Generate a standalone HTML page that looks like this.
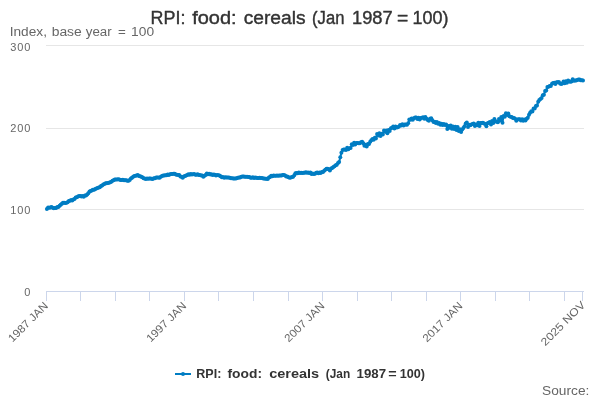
<!DOCTYPE html>
<html><head><meta charset="utf-8"><title>RPI: food: cereals (Jan 1987=100)</title>
<style>
html,body{margin:0;padding:0;background:#fff;}
svg{display:block;will-change:transform;font-family:"Liberation Sans",sans-serif;}
</style></head><body>
<svg width="600" height="400" viewBox="0 0 600 400">
<rect width="600" height="400" fill="#ffffff"/>
<g stroke="#e6e6e6" stroke-width="1" fill="none">
<path d="M46 45.5H584"/><path d="M46 128.5H584"/><path d="M46 209.5H584"/>
</g>
<g stroke="#ccd6eb" stroke-width="1" fill="none">
<path d="M46 291.5H584"/><path d="M46.5 291V301"/><path d="M80.5 291V301"/><path d="M115.5 291V301"/><path d="M149.5 291V301"/><path d="M184.5 291V301"/><path d="M218.5 291V301"/><path d="M253.5 291V301"/><path d="M288.5 291V301"/><path d="M322.5 291V301"/><path d="M357.5 291V301"/><path d="M391.5 291V301"/><path d="M426.5 291V301"/><path d="M460.5 291V301"/><path d="M495.5 291V301"/><path d="M529.5 291V301"/><path d="M564.5 291V301"/><path d="M582.5 291V301"/>
</g>
<g font-size="18" font-weight="normal" fill="#333333" stroke="#333333" stroke-width="0.4" stroke-linejoin="round"><text x="150.6" y="24" textLength="34.8" lengthAdjust="spacingAndGlyphs">RPI:</text><text x="192.2" y="24" textLength="44.47" lengthAdjust="spacingAndGlyphs">food:</text><text x="243.7" y="24" textLength="61.9" lengthAdjust="spacingAndGlyphs">cereals</text><text x="312.1" y="24" textLength="32.28" lengthAdjust="spacingAndGlyphs">(Jan</text><text x="352.04" y="24" textLength="40.64" lengthAdjust="spacingAndGlyphs">1987</text><text x="397.0" y="24" textLength="11.3" lengthAdjust="spacingAndGlyphs">=</text><text x="412.5" y="24" textLength="35.9" lengthAdjust="spacingAndGlyphs">100)</text></g>
<g font-size="12" font-weight="normal" fill="#666666"><text x="9.72" y="36" textLength="37.22" lengthAdjust="spacingAndGlyphs">Index,</text><text x="51.7" y="36" textLength="30.09" lengthAdjust="spacingAndGlyphs">base</text><text x="85.8" y="36" textLength="25.9" lengthAdjust="spacingAndGlyphs">year</text><text x="118.0" y="36" textLength="7.8" lengthAdjust="spacingAndGlyphs">=</text><text x="131.1" y="36" textLength="22.96" lengthAdjust="spacingAndGlyphs">100</text></g>
<g font-size="11" fill="#666666" text-anchor="end">
<text x="31.2" y="51" letter-spacing="0.85">300</text><text x="31.2" y="132" letter-spacing="0.85">200</text><text x="31.2" y="214" letter-spacing="0.85">100</text><text x="31.2" y="296" letter-spacing="0.85">0</text>
</g>
<g font-size="11" fill="#666666" text-anchor="end">
<text transform="translate(48.85,306.45) rotate(-45)" textLength="51.5" lengthAdjust="spacingAndGlyphs">1987 JAN</text>
<text transform="translate(187.05,306.45) rotate(-45)" textLength="51.5" lengthAdjust="spacingAndGlyphs">1997 JAN</text>
<text transform="translate(325.25,306.45) rotate(-45)" textLength="51.5" lengthAdjust="spacingAndGlyphs">2007 JAN</text>
<text transform="translate(463.35,306.45) rotate(-45)" textLength="51.5" lengthAdjust="spacingAndGlyphs">2017 JAN</text>
<text transform="translate(585.95,305.75) rotate(-45)" textLength="57.5" lengthAdjust="spacingAndGlyphs">2025 NOV</text>
</g>
<polyline fill="none" stroke="#007dc3" stroke-width="2" stroke-linejoin="round" stroke-linecap="round" points="46.9,209.0 48.1,207.6 49.2,207.7 50.4,207.4 51.5,207.0 52.7,207.7 53.8,208.2 55.0,208.0 56.1,207.9 57.3,207.1 58.4,207.0 59.6,205.7 60.7,204.8 61.9,203.7 63.0,202.8 64.2,202.7 65.3,202.9 66.5,202.7 67.6,202.3 68.8,201.1 69.9,200.7 71.1,200.1 72.2,200.4 73.4,199.4 74.5,198.9 75.7,197.6 76.8,197.3 78.0,196.5 79.1,196.1 80.3,196.1 81.4,196.5 82.6,196.1 83.7,196.7 84.9,195.6 86.0,195.4 87.2,194.6 88.3,193.3 89.5,191.4 90.6,191.0 91.8,190.5 92.9,189.7 94.1,189.8 95.2,189.0 96.4,188.6 97.5,188.1 98.7,187.5 99.8,187.2 101.0,185.9 102.1,185.5 103.3,184.5 104.4,183.9 105.6,183.3 106.7,183.2 107.9,183.0 109.0,182.8 110.2,182.2 111.3,181.8 112.5,180.7 113.6,180.3 114.8,179.5 115.9,179.6 117.1,179.4 118.2,179.2 119.4,179.4 120.5,179.9 121.7,180.1 122.8,179.8 124.0,180.2 125.1,180.2 126.3,180.2 127.4,180.8 128.6,180.7 129.7,180.0 130.9,178.6 132.0,177.7 133.2,176.8 134.3,176.1 135.5,175.7 136.6,175.6 137.8,175.1 138.9,176.1 140.1,176.2 141.2,176.7 142.4,177.3 143.5,178.3 144.7,178.6 145.8,179.1 147.0,178.5 148.1,178.8 149.3,178.5 150.4,178.6 151.6,178.7 152.7,179.1 153.9,178.3 155.0,178.3 156.2,177.6 157.3,177.5 158.5,177.4 159.6,177.7 160.8,176.8 162.0,176.1 163.1,175.4 164.3,175.4 165.4,175.3 166.6,175.2 167.7,174.5 168.9,174.9 170.0,174.2 171.2,174.1 172.3,173.9 173.5,173.8 174.6,173.7 175.8,174.5 176.9,174.7 178.1,175.1 179.2,175.0 180.4,176.4 181.5,176.7 182.7,177.7 183.8,176.4 185.0,176.1 186.1,175.4 187.3,175.1 188.4,174.3 189.6,174.8 190.7,174.1 191.9,174.6 193.0,174.2 194.2,174.1 195.3,174.7 196.5,174.8 197.6,174.3 198.8,175.0 199.9,175.0 201.1,175.5 202.2,175.6 203.4,176.7 204.5,175.7 205.7,175.1 206.8,173.5 208.0,174.2 209.1,173.7 210.3,174.6 211.4,174.2 212.6,175.0 213.7,174.6 214.9,174.7 216.0,175.4 217.2,175.1 218.3,175.2 219.5,175.6 220.6,176.2 221.8,177.3 222.9,177.0 224.1,177.7 225.2,177.2 226.4,177.4 227.5,177.5 228.7,177.6 229.8,177.8 231.0,178.2 232.1,178.3 233.3,178.4 234.4,178.4 235.6,178.4 236.7,178.3 237.9,177.7 239.0,177.4 240.2,177.5 241.3,176.7 242.5,176.6 243.6,176.6 244.8,176.8 245.9,176.7 247.1,176.7 248.2,176.9 249.4,177.0 250.5,177.7 251.7,177.7 252.8,177.3 254.0,177.9 255.1,177.6 256.3,177.7 257.4,178.1 258.6,178.1 259.7,177.7 260.9,178.1 262.0,178.0 263.2,178.6 264.3,178.6 265.5,178.7 266.6,178.7 267.8,179.0 268.9,177.6 270.1,177.0 271.2,175.8 272.4,176.2 273.5,175.4 274.7,175.7 275.8,175.7 277.0,175.5 278.2,175.7 279.3,175.6 280.5,175.4 281.6,175.5 282.8,174.9 283.9,175.1 285.1,175.5 286.2,176.5 287.4,176.4 288.5,177.3 289.7,177.7 290.8,177.5 292.0,176.9 293.1,176.7 294.3,175.3 295.4,173.3 296.6,172.9 297.7,173.2 298.9,172.6 300.0,173.0 301.2,172.7 302.3,173.1 303.5,172.8 304.6,172.8 305.8,172.2 306.9,172.8 308.1,172.4 309.2,173.0 310.4,172.4 311.5,174.1 312.7,173.5 313.8,174.0 315.0,173.8 316.1,172.7 317.3,172.5 318.4,173.3 319.6,172.4 320.7,173.0 321.9,172.1 323.0,172.1 324.2,170.7 325.3,169.8 326.5,168.7 327.6,168.7 328.8,169.2 329.9,170.6 331.1,168.5 332.2,168.1 333.4,167.0 334.5,166.2 335.7,165.2 336.8,164.7 338.0,163.0 339.1,161.9 340.3,157.3 341.4,152.7 342.6,150.0 343.7,149.6 344.9,149.4 346.0,150.0 347.2,147.8 348.3,149.2 349.5,148.3 350.6,148.1 351.8,144.3 352.9,144.9 354.1,142.7 355.2,144.4 356.4,143.0 357.5,142.9 358.7,143.2 359.8,143.2 361.0,142.2 362.1,141.8 363.3,143.3 364.4,145.8 365.6,144.8 366.7,146.6 367.9,144.1 369.0,144.1 370.2,141.8 371.3,140.2 372.5,139.0 373.6,139.8 374.8,137.7 375.9,138.4 377.1,133.9 378.2,135.4 379.4,133.3 380.5,135.9 381.7,133.8 382.8,134.4 384.0,130.5 385.1,131.7 386.3,130.4 387.4,133.2 388.6,130.1 389.7,131.1 390.9,128.2 392.1,127.8 393.2,126.5 394.4,128.5 395.5,126.5 396.7,127.6 397.8,127.2 399.0,126.5 400.1,124.9 401.3,125.6 402.4,124.2 403.6,125.6 404.7,124.4 405.9,124.5 407.0,124.7 408.2,123.3 409.3,119.6 410.5,119.8 411.6,118.5 412.8,119.7 413.9,118.2 415.1,117.5 416.2,117.6 417.4,118.9 418.5,117.8 419.7,119.4 420.8,117.9 422.0,117.7 423.1,117.3 424.3,118.7 425.4,117.0 426.6,118.7 427.7,119.9 428.9,120.8 430.0,118.8 431.2,118.3 432.3,120.2 433.5,122.1 434.6,121.8 435.8,123.0 436.9,122.1 438.1,123.7 439.2,122.9 440.4,124.7 441.5,123.7 442.7,125.1 443.8,124.0 445.0,125.1 446.1,124.4 447.3,129.0 448.4,126.0 449.6,127.7 450.7,125.4 451.9,128.8 453.0,126.4 454.2,128.9 455.3,126.7 456.5,129.9 457.6,127.0 458.8,130.9 459.9,129.2 461.1,132.1 462.2,129.5 463.4,128.1 464.5,126.3 465.7,123.4 466.8,122.6 468.0,126.9 469.1,124.8 470.3,125.3 471.4,124.4 472.6,124.0 473.7,123.5 474.9,125.9 476.0,124.4 477.2,125.2 478.3,122.8 479.5,125.9 480.6,122.9 481.8,123.1 482.9,122.8 484.1,123.6 485.2,124.0 486.4,126.3 487.5,123.2 488.7,122.8 489.8,122.0 491.0,124.5 492.1,120.9 493.3,122.9 494.4,118.9 495.6,121.3 496.7,121.8 497.9,122.2 499.0,119.0 500.2,120.4 501.3,116.9 502.5,122.7 503.6,116.0 504.8,116.7 505.9,113.3 507.1,115.0 508.3,113.4 509.4,116.3 510.6,116.8 511.7,116.9 512.9,118.0 514.0,118.1 515.2,118.8 516.3,120.8 517.5,119.5 518.6,119.2 519.8,119.3 520.9,120.4 522.1,119.3 523.2,120.7 524.4,119.6 525.5,120.5 526.7,118.8 527.8,117.7 529.0,114.8 530.1,112.7 531.3,111.3 532.4,111.4 533.6,108.4 534.7,108.6 535.9,106.0 537.0,105.5 538.2,101.7 539.3,100.1 540.5,98.9 541.6,97.9 542.8,95.3 543.9,94.7 545.1,90.9 546.2,90.4 547.4,87.0 548.5,86.7 549.7,85.9 550.8,85.9 552.0,83.8 553.1,83.1 554.3,82.8 555.4,83.9 556.6,82.2 557.7,82.3 558.9,82.0 560.0,83.5 561.2,83.9 562.3,83.4 563.5,81.4 564.6,83.2 565.8,81.3 566.9,82.8 568.1,80.6 569.2,81.6 570.4,81.8 571.5,81.6 572.7,79.3 573.8,80.7 575.0,80.6 576.1,80.5 577.3,79.9 578.4,79.5 579.6,79.4 580.7,80.2 581.9,80.2 583.0,80.5"/>
<g fill="#007dc3"><circle cx="46.9" cy="209.0" r="2.0"/><circle cx="48.1" cy="207.6" r="2.0"/><circle cx="49.2" cy="207.7" r="2.0"/><circle cx="50.4" cy="207.4" r="2.0"/><circle cx="51.5" cy="207.0" r="2.0"/><circle cx="52.7" cy="207.7" r="2.0"/><circle cx="53.8" cy="208.2" r="2.0"/><circle cx="55.0" cy="208.0" r="2.0"/><circle cx="56.1" cy="207.9" r="2.0"/><circle cx="57.3" cy="207.1" r="2.0"/><circle cx="58.4" cy="207.0" r="2.0"/><circle cx="59.6" cy="205.7" r="2.0"/><circle cx="60.7" cy="204.8" r="2.0"/><circle cx="61.9" cy="203.7" r="2.0"/><circle cx="63.0" cy="202.8" r="2.0"/><circle cx="64.2" cy="202.7" r="2.0"/><circle cx="65.3" cy="202.9" r="2.0"/><circle cx="66.5" cy="202.7" r="2.0"/><circle cx="67.6" cy="202.3" r="2.0"/><circle cx="68.8" cy="201.1" r="2.0"/><circle cx="69.9" cy="200.7" r="2.0"/><circle cx="71.1" cy="200.1" r="2.0"/><circle cx="72.2" cy="200.4" r="2.0"/><circle cx="73.4" cy="199.4" r="2.0"/><circle cx="74.5" cy="198.9" r="2.0"/><circle cx="75.7" cy="197.6" r="2.0"/><circle cx="76.8" cy="197.3" r="2.0"/><circle cx="78.0" cy="196.5" r="2.0"/><circle cx="79.1" cy="196.1" r="2.0"/><circle cx="80.3" cy="196.1" r="2.0"/><circle cx="81.4" cy="196.5" r="2.0"/><circle cx="82.6" cy="196.1" r="2.0"/><circle cx="83.7" cy="196.7" r="2.0"/><circle cx="84.9" cy="195.6" r="2.0"/><circle cx="86.0" cy="195.4" r="2.0"/><circle cx="87.2" cy="194.6" r="2.0"/><circle cx="88.3" cy="193.3" r="2.0"/><circle cx="89.5" cy="191.4" r="2.0"/><circle cx="90.6" cy="191.0" r="2.0"/><circle cx="91.8" cy="190.5" r="2.0"/><circle cx="92.9" cy="189.7" r="2.0"/><circle cx="94.1" cy="189.8" r="2.0"/><circle cx="95.2" cy="189.0" r="2.0"/><circle cx="96.4" cy="188.6" r="2.0"/><circle cx="97.5" cy="188.1" r="2.0"/><circle cx="98.7" cy="187.5" r="2.0"/><circle cx="99.8" cy="187.2" r="2.0"/><circle cx="101.0" cy="185.9" r="2.0"/><circle cx="102.1" cy="185.5" r="2.0"/><circle cx="103.3" cy="184.5" r="2.0"/><circle cx="104.4" cy="183.9" r="2.0"/><circle cx="105.6" cy="183.3" r="2.0"/><circle cx="106.7" cy="183.2" r="2.0"/><circle cx="107.9" cy="183.0" r="2.0"/><circle cx="109.0" cy="182.8" r="2.0"/><circle cx="110.2" cy="182.2" r="2.0"/><circle cx="111.3" cy="181.8" r="2.0"/><circle cx="112.5" cy="180.7" r="2.0"/><circle cx="113.6" cy="180.3" r="2.0"/><circle cx="114.8" cy="179.5" r="2.0"/><circle cx="115.9" cy="179.6" r="2.0"/><circle cx="117.1" cy="179.4" r="2.0"/><circle cx="118.2" cy="179.2" r="2.0"/><circle cx="119.4" cy="179.4" r="2.0"/><circle cx="120.5" cy="179.9" r="2.0"/><circle cx="121.7" cy="180.1" r="2.0"/><circle cx="122.8" cy="179.8" r="2.0"/><circle cx="124.0" cy="180.2" r="2.0"/><circle cx="125.1" cy="180.2" r="2.0"/><circle cx="126.3" cy="180.2" r="2.0"/><circle cx="127.4" cy="180.8" r="2.0"/><circle cx="128.6" cy="180.7" r="2.0"/><circle cx="129.7" cy="180.0" r="2.0"/><circle cx="130.9" cy="178.6" r="2.0"/><circle cx="132.0" cy="177.7" r="2.0"/><circle cx="133.2" cy="176.8" r="2.0"/><circle cx="134.3" cy="176.1" r="2.0"/><circle cx="135.5" cy="175.7" r="2.0"/><circle cx="136.6" cy="175.6" r="2.0"/><circle cx="137.8" cy="175.1" r="2.0"/><circle cx="138.9" cy="176.1" r="2.0"/><circle cx="140.1" cy="176.2" r="2.0"/><circle cx="141.2" cy="176.7" r="2.0"/><circle cx="142.4" cy="177.3" r="2.0"/><circle cx="143.5" cy="178.3" r="2.0"/><circle cx="144.7" cy="178.6" r="2.0"/><circle cx="145.8" cy="179.1" r="2.0"/><circle cx="147.0" cy="178.5" r="2.0"/><circle cx="148.1" cy="178.8" r="2.0"/><circle cx="149.3" cy="178.5" r="2.0"/><circle cx="150.4" cy="178.6" r="2.0"/><circle cx="151.6" cy="178.7" r="2.0"/><circle cx="152.7" cy="179.1" r="2.0"/><circle cx="153.9" cy="178.3" r="2.0"/><circle cx="155.0" cy="178.3" r="2.0"/><circle cx="156.2" cy="177.6" r="2.0"/><circle cx="157.3" cy="177.5" r="2.0"/><circle cx="158.5" cy="177.4" r="2.0"/><circle cx="159.6" cy="177.7" r="2.0"/><circle cx="160.8" cy="176.8" r="2.0"/><circle cx="162.0" cy="176.1" r="2.0"/><circle cx="163.1" cy="175.4" r="2.0"/><circle cx="164.3" cy="175.4" r="2.0"/><circle cx="165.4" cy="175.3" r="2.0"/><circle cx="166.6" cy="175.2" r="2.0"/><circle cx="167.7" cy="174.5" r="2.0"/><circle cx="168.9" cy="174.9" r="2.0"/><circle cx="170.0" cy="174.2" r="2.0"/><circle cx="171.2" cy="174.1" r="2.0"/><circle cx="172.3" cy="173.9" r="2.0"/><circle cx="173.5" cy="173.8" r="2.0"/><circle cx="174.6" cy="173.7" r="2.0"/><circle cx="175.8" cy="174.5" r="2.0"/><circle cx="176.9" cy="174.7" r="2.0"/><circle cx="178.1" cy="175.1" r="2.0"/><circle cx="179.2" cy="175.0" r="2.0"/><circle cx="180.4" cy="176.4" r="2.0"/><circle cx="181.5" cy="176.7" r="2.0"/><circle cx="182.7" cy="177.7" r="2.0"/><circle cx="183.8" cy="176.4" r="2.0"/><circle cx="185.0" cy="176.1" r="2.0"/><circle cx="186.1" cy="175.4" r="2.0"/><circle cx="187.3" cy="175.1" r="2.0"/><circle cx="188.4" cy="174.3" r="2.0"/><circle cx="189.6" cy="174.8" r="2.0"/><circle cx="190.7" cy="174.1" r="2.0"/><circle cx="191.9" cy="174.6" r="2.0"/><circle cx="193.0" cy="174.2" r="2.0"/><circle cx="194.2" cy="174.1" r="2.0"/><circle cx="195.3" cy="174.7" r="2.0"/><circle cx="196.5" cy="174.8" r="2.0"/><circle cx="197.6" cy="174.3" r="2.0"/><circle cx="198.8" cy="175.0" r="2.0"/><circle cx="199.9" cy="175.0" r="2.0"/><circle cx="201.1" cy="175.5" r="2.0"/><circle cx="202.2" cy="175.6" r="2.0"/><circle cx="203.4" cy="176.7" r="2.0"/><circle cx="204.5" cy="175.7" r="2.0"/><circle cx="205.7" cy="175.1" r="2.0"/><circle cx="206.8" cy="173.5" r="2.0"/><circle cx="208.0" cy="174.2" r="2.0"/><circle cx="209.1" cy="173.7" r="2.0"/><circle cx="210.3" cy="174.6" r="2.0"/><circle cx="211.4" cy="174.2" r="2.0"/><circle cx="212.6" cy="175.0" r="2.0"/><circle cx="213.7" cy="174.6" r="2.0"/><circle cx="214.9" cy="174.7" r="2.0"/><circle cx="216.0" cy="175.4" r="2.0"/><circle cx="217.2" cy="175.1" r="2.0"/><circle cx="218.3" cy="175.2" r="2.0"/><circle cx="219.5" cy="175.6" r="2.0"/><circle cx="220.6" cy="176.2" r="2.0"/><circle cx="221.8" cy="177.3" r="2.0"/><circle cx="222.9" cy="177.0" r="2.0"/><circle cx="224.1" cy="177.7" r="2.0"/><circle cx="225.2" cy="177.2" r="2.0"/><circle cx="226.4" cy="177.4" r="2.0"/><circle cx="227.5" cy="177.5" r="2.0"/><circle cx="228.7" cy="177.6" r="2.0"/><circle cx="229.8" cy="177.8" r="2.0"/><circle cx="231.0" cy="178.2" r="2.0"/><circle cx="232.1" cy="178.3" r="2.0"/><circle cx="233.3" cy="178.4" r="2.0"/><circle cx="234.4" cy="178.4" r="2.0"/><circle cx="235.6" cy="178.4" r="2.0"/><circle cx="236.7" cy="178.3" r="2.0"/><circle cx="237.9" cy="177.7" r="2.0"/><circle cx="239.0" cy="177.4" r="2.0"/><circle cx="240.2" cy="177.5" r="2.0"/><circle cx="241.3" cy="176.7" r="2.0"/><circle cx="242.5" cy="176.6" r="2.0"/><circle cx="243.6" cy="176.6" r="2.0"/><circle cx="244.8" cy="176.8" r="2.0"/><circle cx="245.9" cy="176.7" r="2.0"/><circle cx="247.1" cy="176.7" r="2.0"/><circle cx="248.2" cy="176.9" r="2.0"/><circle cx="249.4" cy="177.0" r="2.0"/><circle cx="250.5" cy="177.7" r="2.0"/><circle cx="251.7" cy="177.7" r="2.0"/><circle cx="252.8" cy="177.3" r="2.0"/><circle cx="254.0" cy="177.9" r="2.0"/><circle cx="255.1" cy="177.6" r="2.0"/><circle cx="256.3" cy="177.7" r="2.0"/><circle cx="257.4" cy="178.1" r="2.0"/><circle cx="258.6" cy="178.1" r="2.0"/><circle cx="259.7" cy="177.7" r="2.0"/><circle cx="260.9" cy="178.1" r="2.0"/><circle cx="262.0" cy="178.0" r="2.0"/><circle cx="263.2" cy="178.6" r="2.0"/><circle cx="264.3" cy="178.6" r="2.0"/><circle cx="265.5" cy="178.7" r="2.0"/><circle cx="266.6" cy="178.7" r="2.0"/><circle cx="267.8" cy="179.0" r="2.0"/><circle cx="268.9" cy="177.6" r="2.0"/><circle cx="270.1" cy="177.0" r="2.0"/><circle cx="271.2" cy="175.8" r="2.0"/><circle cx="272.4" cy="176.2" r="2.0"/><circle cx="273.5" cy="175.4" r="2.0"/><circle cx="274.7" cy="175.7" r="2.0"/><circle cx="275.8" cy="175.7" r="2.0"/><circle cx="277.0" cy="175.5" r="2.0"/><circle cx="278.2" cy="175.7" r="2.0"/><circle cx="279.3" cy="175.6" r="2.0"/><circle cx="280.5" cy="175.4" r="2.0"/><circle cx="281.6" cy="175.5" r="2.0"/><circle cx="282.8" cy="174.9" r="2.0"/><circle cx="283.9" cy="175.1" r="2.0"/><circle cx="285.1" cy="175.5" r="2.0"/><circle cx="286.2" cy="176.5" r="2.0"/><circle cx="287.4" cy="176.4" r="2.0"/><circle cx="288.5" cy="177.3" r="2.0"/><circle cx="289.7" cy="177.7" r="2.0"/><circle cx="290.8" cy="177.5" r="2.0"/><circle cx="292.0" cy="176.9" r="2.0"/><circle cx="293.1" cy="176.7" r="2.0"/><circle cx="294.3" cy="175.3" r="2.0"/><circle cx="295.4" cy="173.3" r="2.0"/><circle cx="296.6" cy="172.9" r="2.0"/><circle cx="297.7" cy="173.2" r="2.0"/><circle cx="298.9" cy="172.6" r="2.0"/><circle cx="300.0" cy="173.0" r="2.0"/><circle cx="301.2" cy="172.7" r="2.0"/><circle cx="302.3" cy="173.1" r="2.0"/><circle cx="303.5" cy="172.8" r="2.0"/><circle cx="304.6" cy="172.8" r="2.0"/><circle cx="305.8" cy="172.2" r="2.0"/><circle cx="306.9" cy="172.8" r="2.0"/><circle cx="308.1" cy="172.4" r="2.0"/><circle cx="309.2" cy="173.0" r="2.0"/><circle cx="310.4" cy="172.4" r="2.0"/><circle cx="311.5" cy="174.1" r="2.0"/><circle cx="312.7" cy="173.5" r="2.0"/><circle cx="313.8" cy="174.0" r="2.0"/><circle cx="315.0" cy="173.8" r="2.0"/><circle cx="316.1" cy="172.7" r="2.0"/><circle cx="317.3" cy="172.5" r="2.0"/><circle cx="318.4" cy="173.3" r="2.0"/><circle cx="319.6" cy="172.4" r="2.0"/><circle cx="320.7" cy="173.0" r="2.0"/><circle cx="321.9" cy="172.1" r="2.0"/><circle cx="323.0" cy="172.1" r="2.0"/><circle cx="324.2" cy="170.7" r="2.0"/><circle cx="325.3" cy="169.8" r="2.0"/><circle cx="326.5" cy="168.7" r="2.0"/><circle cx="327.6" cy="168.7" r="2.0"/><circle cx="328.8" cy="169.2" r="2.0"/><circle cx="329.9" cy="170.6" r="2.0"/><circle cx="331.1" cy="168.5" r="2.0"/><circle cx="332.2" cy="168.1" r="2.0"/><circle cx="333.4" cy="167.0" r="2.0"/><circle cx="334.5" cy="166.2" r="2.0"/><circle cx="335.7" cy="165.2" r="2.0"/><circle cx="336.8" cy="164.7" r="2.0"/><circle cx="338.0" cy="163.0" r="2.0"/><circle cx="339.1" cy="161.9" r="2.0"/><circle cx="340.3" cy="157.3" r="2.0"/><circle cx="341.4" cy="152.7" r="2.0"/><circle cx="342.6" cy="150.0" r="2.0"/><circle cx="343.7" cy="149.6" r="2.0"/><circle cx="344.9" cy="149.4" r="2.0"/><circle cx="346.0" cy="150.0" r="2.0"/><circle cx="347.2" cy="147.8" r="2.0"/><circle cx="348.3" cy="149.2" r="2.0"/><circle cx="349.5" cy="148.3" r="2.0"/><circle cx="350.6" cy="148.1" r="2.0"/><circle cx="351.8" cy="144.3" r="2.0"/><circle cx="352.9" cy="144.9" r="2.0"/><circle cx="354.1" cy="142.7" r="2.0"/><circle cx="355.2" cy="144.4" r="2.0"/><circle cx="356.4" cy="143.0" r="2.0"/><circle cx="357.5" cy="142.9" r="2.0"/><circle cx="358.7" cy="143.2" r="2.0"/><circle cx="359.8" cy="143.2" r="2.0"/><circle cx="361.0" cy="142.2" r="2.0"/><circle cx="362.1" cy="141.8" r="2.0"/><circle cx="363.3" cy="143.3" r="2.0"/><circle cx="364.4" cy="145.8" r="2.0"/><circle cx="365.6" cy="144.8" r="2.0"/><circle cx="366.7" cy="146.6" r="2.0"/><circle cx="367.9" cy="144.1" r="2.0"/><circle cx="369.0" cy="144.1" r="2.0"/><circle cx="370.2" cy="141.8" r="2.0"/><circle cx="371.3" cy="140.2" r="2.0"/><circle cx="372.5" cy="139.0" r="2.0"/><circle cx="373.6" cy="139.8" r="2.0"/><circle cx="374.8" cy="137.7" r="2.0"/><circle cx="375.9" cy="138.4" r="2.0"/><circle cx="377.1" cy="133.9" r="2.0"/><circle cx="378.2" cy="135.4" r="2.0"/><circle cx="379.4" cy="133.3" r="2.0"/><circle cx="380.5" cy="135.9" r="2.0"/><circle cx="381.7" cy="133.8" r="2.0"/><circle cx="382.8" cy="134.4" r="2.0"/><circle cx="384.0" cy="130.5" r="2.0"/><circle cx="385.1" cy="131.7" r="2.0"/><circle cx="386.3" cy="130.4" r="2.0"/><circle cx="387.4" cy="133.2" r="2.0"/><circle cx="388.6" cy="130.1" r="2.0"/><circle cx="389.7" cy="131.1" r="2.0"/><circle cx="390.9" cy="128.2" r="2.0"/><circle cx="392.1" cy="127.8" r="2.0"/><circle cx="393.2" cy="126.5" r="2.0"/><circle cx="394.4" cy="128.5" r="2.0"/><circle cx="395.5" cy="126.5" r="2.0"/><circle cx="396.7" cy="127.6" r="2.0"/><circle cx="397.8" cy="127.2" r="2.0"/><circle cx="399.0" cy="126.5" r="2.0"/><circle cx="400.1" cy="124.9" r="2.0"/><circle cx="401.3" cy="125.6" r="2.0"/><circle cx="402.4" cy="124.2" r="2.0"/><circle cx="403.6" cy="125.6" r="2.0"/><circle cx="404.7" cy="124.4" r="2.0"/><circle cx="405.9" cy="124.5" r="2.0"/><circle cx="407.0" cy="124.7" r="2.0"/><circle cx="408.2" cy="123.3" r="2.0"/><circle cx="409.3" cy="119.6" r="2.0"/><circle cx="410.5" cy="119.8" r="2.0"/><circle cx="411.6" cy="118.5" r="2.0"/><circle cx="412.8" cy="119.7" r="2.0"/><circle cx="413.9" cy="118.2" r="2.0"/><circle cx="415.1" cy="117.5" r="2.0"/><circle cx="416.2" cy="117.6" r="2.0"/><circle cx="417.4" cy="118.9" r="2.0"/><circle cx="418.5" cy="117.8" r="2.0"/><circle cx="419.7" cy="119.4" r="2.0"/><circle cx="420.8" cy="117.9" r="2.0"/><circle cx="422.0" cy="117.7" r="2.0"/><circle cx="423.1" cy="117.3" r="2.0"/><circle cx="424.3" cy="118.7" r="2.0"/><circle cx="425.4" cy="117.0" r="2.0"/><circle cx="426.6" cy="118.7" r="2.0"/><circle cx="427.7" cy="119.9" r="2.0"/><circle cx="428.9" cy="120.8" r="2.0"/><circle cx="430.0" cy="118.8" r="2.0"/><circle cx="431.2" cy="118.3" r="2.0"/><circle cx="432.3" cy="120.2" r="2.0"/><circle cx="433.5" cy="122.1" r="2.0"/><circle cx="434.6" cy="121.8" r="2.0"/><circle cx="435.8" cy="123.0" r="2.0"/><circle cx="436.9" cy="122.1" r="2.0"/><circle cx="438.1" cy="123.7" r="2.0"/><circle cx="439.2" cy="122.9" r="2.0"/><circle cx="440.4" cy="124.7" r="2.0"/><circle cx="441.5" cy="123.7" r="2.0"/><circle cx="442.7" cy="125.1" r="2.0"/><circle cx="443.8" cy="124.0" r="2.0"/><circle cx="445.0" cy="125.1" r="2.0"/><circle cx="446.1" cy="124.4" r="2.0"/><circle cx="447.3" cy="129.0" r="2.0"/><circle cx="448.4" cy="126.0" r="2.0"/><circle cx="449.6" cy="127.7" r="2.0"/><circle cx="450.7" cy="125.4" r="2.0"/><circle cx="451.9" cy="128.8" r="2.0"/><circle cx="453.0" cy="126.4" r="2.0"/><circle cx="454.2" cy="128.9" r="2.0"/><circle cx="455.3" cy="126.7" r="2.0"/><circle cx="456.5" cy="129.9" r="2.0"/><circle cx="457.6" cy="127.0" r="2.0"/><circle cx="458.8" cy="130.9" r="2.0"/><circle cx="459.9" cy="129.2" r="2.0"/><circle cx="461.1" cy="132.1" r="2.0"/><circle cx="462.2" cy="129.5" r="2.0"/><circle cx="463.4" cy="128.1" r="2.0"/><circle cx="464.5" cy="126.3" r="2.0"/><circle cx="465.7" cy="123.4" r="2.0"/><circle cx="466.8" cy="122.6" r="2.0"/><circle cx="468.0" cy="126.9" r="2.0"/><circle cx="469.1" cy="124.8" r="2.0"/><circle cx="470.3" cy="125.3" r="2.0"/><circle cx="471.4" cy="124.4" r="2.0"/><circle cx="472.6" cy="124.0" r="2.0"/><circle cx="473.7" cy="123.5" r="2.0"/><circle cx="474.9" cy="125.9" r="2.0"/><circle cx="476.0" cy="124.4" r="2.0"/><circle cx="477.2" cy="125.2" r="2.0"/><circle cx="478.3" cy="122.8" r="2.0"/><circle cx="479.5" cy="125.9" r="2.0"/><circle cx="480.6" cy="122.9" r="2.0"/><circle cx="481.8" cy="123.1" r="2.0"/><circle cx="482.9" cy="122.8" r="2.0"/><circle cx="484.1" cy="123.6" r="2.0"/><circle cx="485.2" cy="124.0" r="2.0"/><circle cx="486.4" cy="126.3" r="2.0"/><circle cx="487.5" cy="123.2" r="2.0"/><circle cx="488.7" cy="122.8" r="2.0"/><circle cx="489.8" cy="122.0" r="2.0"/><circle cx="491.0" cy="124.5" r="2.0"/><circle cx="492.1" cy="120.9" r="2.0"/><circle cx="493.3" cy="122.9" r="2.0"/><circle cx="494.4" cy="118.9" r="2.0"/><circle cx="495.6" cy="121.3" r="2.0"/><circle cx="496.7" cy="121.8" r="2.0"/><circle cx="497.9" cy="122.2" r="2.0"/><circle cx="499.0" cy="119.0" r="2.0"/><circle cx="500.2" cy="120.4" r="2.0"/><circle cx="501.3" cy="116.9" r="2.0"/><circle cx="502.5" cy="122.7" r="2.0"/><circle cx="503.6" cy="116.0" r="2.0"/><circle cx="504.8" cy="116.7" r="2.0"/><circle cx="505.9" cy="113.3" r="2.0"/><circle cx="507.1" cy="115.0" r="2.0"/><circle cx="508.3" cy="113.4" r="2.0"/><circle cx="509.4" cy="116.3" r="2.0"/><circle cx="510.6" cy="116.8" r="2.0"/><circle cx="511.7" cy="116.9" r="2.0"/><circle cx="512.9" cy="118.0" r="2.0"/><circle cx="514.0" cy="118.1" r="2.0"/><circle cx="515.2" cy="118.8" r="2.0"/><circle cx="516.3" cy="120.8" r="2.0"/><circle cx="517.5" cy="119.5" r="2.0"/><circle cx="518.6" cy="119.2" r="2.0"/><circle cx="519.8" cy="119.3" r="2.0"/><circle cx="520.9" cy="120.4" r="2.0"/><circle cx="522.1" cy="119.3" r="2.0"/><circle cx="523.2" cy="120.7" r="2.0"/><circle cx="524.4" cy="119.6" r="2.0"/><circle cx="525.5" cy="120.5" r="2.0"/><circle cx="526.7" cy="118.8" r="2.0"/><circle cx="527.8" cy="117.7" r="2.0"/><circle cx="529.0" cy="114.8" r="2.0"/><circle cx="530.1" cy="112.7" r="2.0"/><circle cx="531.3" cy="111.3" r="2.0"/><circle cx="532.4" cy="111.4" r="2.0"/><circle cx="533.6" cy="108.4" r="2.0"/><circle cx="534.7" cy="108.6" r="2.0"/><circle cx="535.9" cy="106.0" r="2.0"/><circle cx="537.0" cy="105.5" r="2.0"/><circle cx="538.2" cy="101.7" r="2.0"/><circle cx="539.3" cy="100.1" r="2.0"/><circle cx="540.5" cy="98.9" r="2.0"/><circle cx="541.6" cy="97.9" r="2.0"/><circle cx="542.8" cy="95.3" r="2.0"/><circle cx="543.9" cy="94.7" r="2.0"/><circle cx="545.1" cy="90.9" r="2.0"/><circle cx="546.2" cy="90.4" r="2.0"/><circle cx="547.4" cy="87.0" r="2.0"/><circle cx="548.5" cy="86.7" r="2.0"/><circle cx="549.7" cy="85.9" r="2.0"/><circle cx="550.8" cy="85.9" r="2.0"/><circle cx="552.0" cy="83.8" r="2.0"/><circle cx="553.1" cy="83.1" r="2.0"/><circle cx="554.3" cy="82.8" r="2.0"/><circle cx="555.4" cy="83.9" r="2.0"/><circle cx="556.6" cy="82.2" r="2.0"/><circle cx="557.7" cy="82.3" r="2.0"/><circle cx="558.9" cy="82.0" r="2.0"/><circle cx="560.0" cy="83.5" r="2.0"/><circle cx="561.2" cy="83.9" r="2.0"/><circle cx="562.3" cy="83.4" r="2.0"/><circle cx="563.5" cy="81.4" r="2.0"/><circle cx="564.6" cy="83.2" r="2.0"/><circle cx="565.8" cy="81.3" r="2.0"/><circle cx="566.9" cy="82.8" r="2.0"/><circle cx="568.1" cy="80.6" r="2.0"/><circle cx="569.2" cy="81.6" r="2.0"/><circle cx="570.4" cy="81.8" r="2.0"/><circle cx="571.5" cy="81.6" r="2.0"/><circle cx="572.7" cy="79.3" r="2.0"/><circle cx="573.8" cy="80.7" r="2.0"/><circle cx="575.0" cy="80.6" r="2.0"/><circle cx="576.1" cy="80.5" r="2.0"/><circle cx="577.3" cy="79.9" r="2.0"/><circle cx="578.4" cy="79.5" r="2.0"/><circle cx="579.6" cy="79.4" r="2.0"/><circle cx="580.7" cy="80.2" r="2.0"/><circle cx="581.9" cy="80.2" r="2.0"/><circle cx="583.0" cy="80.5" r="2.0"/></g>
<path d="M175 374H191" stroke="#007dc3" stroke-width="2" fill="none"/><circle cx="183" cy="374" r="2" fill="#007dc3"/>
<g font-size="12" font-weight="bold" fill="#333333"><text x="196.3" y="378" textLength="25.02" lengthAdjust="spacingAndGlyphs">RPI:</text><text x="227.5" y="378" textLength="34.5" lengthAdjust="spacingAndGlyphs">food:</text><text x="269.2" y="378" textLength="50.0" lengthAdjust="spacingAndGlyphs">cereals</text><text x="325.8" y="378" textLength="24.4" lengthAdjust="spacingAndGlyphs">(Jan</text><text x="356.5" y="378" textLength="29.52" lengthAdjust="spacingAndGlyphs">1987</text><text x="388.3" y="378" textLength="8.4" lengthAdjust="spacingAndGlyphs">=</text><text x="399.7" y="378" textLength="25.3" lengthAdjust="spacingAndGlyphs">100)</text></g>
<g font-size="12" font-weight="normal" fill="#666666"><text x="542.1" y="395" textLength="47.26" lengthAdjust="spacingAndGlyphs">Source:</text></g>
</svg>
</body></html>
